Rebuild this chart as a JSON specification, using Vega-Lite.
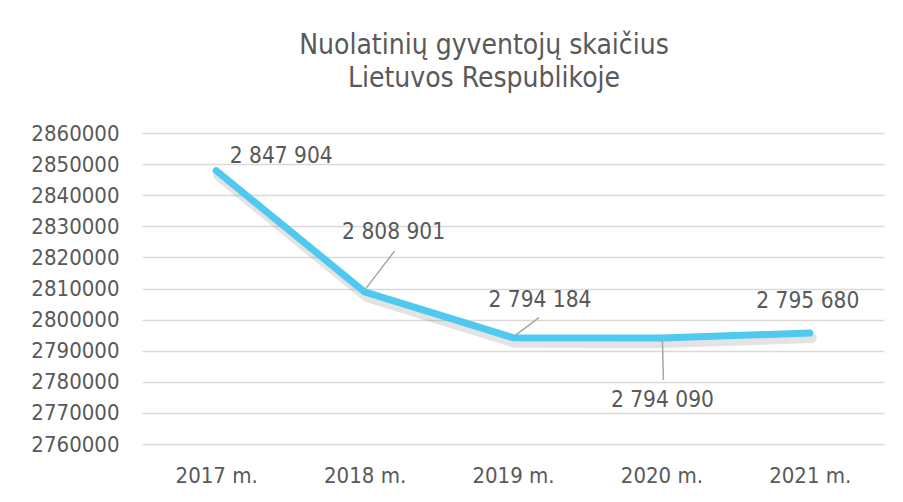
{
  "$schema": "https://vega.github.io/schema/vega-lite/v6.json",
  "width": 742,
  "height": 311,
  "autosize": {"type": "none"},
  "padding": {"left": 142, "top": 133, "right": 19, "bottom": 58},
  "background": "white",
  "title": {
    "text": ["Nuolatinių gyventojų skaičius", "Lietuvos Respublikoje"],
    "font": "DejaVu Sans Condensed",
    "fontSize": 28,
    "fontWeight": "normal",
    "color": "#595959",
    "anchor": "middle",
    "dx": -29,
    "offset": 29,
    "lineHeight": 33
  },
  "config": {
    "view": {"stroke": null},
    "font": "DejaVu Sans Condensed",
    "text": {"font": "DejaVu Sans Condensed"}
  },
  "data": {
    "values": [
      {"year": "2017 m.", "value": 2847904, "label": "2 847 904"},
      {"year": "2018 m.", "value": 2808901, "label": "2 808 901"},
      {"year": "2019 m.", "value": 2794184, "label": "2 794 184"},
      {"year": "2020 m.", "value": 2794090, "label": "2 794 090"},
      {"year": "2021 m.", "value": 2795680, "label": "2 795 680"}
    ]
  },
  "encoding": {
    "x": {
      "field": "year",
      "type": "ordinal",
      "scale": {"type": "point", "padding": 0.5},
      "axis": {
        "title": null,
        "labelAngle": 0,
        "domain": false,
        "ticks": false,
        "labelFont": "DejaVu Sans Condensed",
        "labelFontSize": 22,
        "labelColor": "#595959",
        "labelPadding": 21
      }
    },
    "y": {
      "field": "value",
      "type": "quantitative",
      "scale": {"domain": [2760000, 2860000], "nice": false, "zero": false},
      "axis": {
        "title": null,
        "values": [2760000, 2770000, 2780000, 2790000, 2800000, 2810000, 2820000, 2830000, 2840000, 2850000, 2860000],
        "format": "d",
        "domain": false,
        "ticks": false,
        "grid": true,
        "gridColor": "#d9d9d9",
        "gridWidth": 1.5,
        "labelFont": "DejaVu Sans Condensed",
        "labelFontSize": 22,
        "labelColor": "#595959",
        "labelPadding": 23
      }
    }
  },
  "layer": [
    {
      "mark": {"type": "line", "color": "#7f7f7f", "opacity": 0.22, "strokeWidth": 10, "strokeCap": "round", "strokeJoin": "round", "xOffset": 2, "yOffset": 5}
    },
    {
      "mark": {"type": "line", "color": "#4FC9F0", "strokeWidth": 7, "strokeCap": "round", "strokeJoin": "round"}
    },
    {
      "transform": [{"filter": "datum.year === '2018 m.'"}],
      "mark": {"type": "rule", "color": "#a6a6a6", "strokeWidth": 1.5, "xOffset": 1, "yOffset": -3, "x2Offset": 30, "y2Offset": -41},
      "encoding": {"x2": {"field": "year"}, "y2": {"field": "value"}}
    },
    {
      "transform": [{"filter": "datum.year === '2019 m.'"}],
      "mark": {"type": "rule", "color": "#a6a6a6", "strokeWidth": 1.5, "xOffset": 2, "yOffset": -2, "x2Offset": 26, "y2Offset": -20},
      "encoding": {"x2": {"field": "year"}, "y2": {"field": "value"}}
    },
    {
      "transform": [{"filter": "datum.year === '2020 m.'"}],
      "mark": {"type": "rule", "color": "#a6a6a6", "strokeWidth": 1.5, "xOffset": 1, "yOffset": 2, "x2Offset": 2, "y2Offset": 42},
      "encoding": {"x2": {"field": "year"}, "y2": {"field": "value"}}
    },
    {
      "transform": [{"filter": "datum.year === '2017 m.'"}],
      "mark": {"type": "text", "fontSize": 22.5, "color": "#595959", "align": "center", "baseline": "middle", "dx": 65, "dy": -15},
      "encoding": {"text": {"field": "label"}}
    },
    {
      "transform": [{"filter": "datum.year === '2018 m.'"}],
      "mark": {"type": "text", "fontSize": 22.5, "color": "#595959", "align": "center", "baseline": "middle", "dx": 29, "dy": -60},
      "encoding": {"text": {"field": "label"}}
    },
    {
      "transform": [{"filter": "datum.year === '2019 m.'"}],
      "mark": {"type": "text", "fontSize": 22.5, "color": "#595959", "align": "center", "baseline": "middle", "dx": 27, "dy": -38},
      "encoding": {"text": {"field": "label"}}
    },
    {
      "transform": [{"filter": "datum.year === '2020 m.'"}],
      "mark": {"type": "text", "fontSize": 22.5, "color": "#595959", "align": "center", "baseline": "middle", "dx": 1, "dy": 62},
      "encoding": {"text": {"field": "label"}}
    },
    {
      "transform": [{"filter": "datum.year === '2021 m.'"}],
      "mark": {"type": "text", "fontSize": 22.5, "color": "#595959", "align": "center", "baseline": "middle", "dx": -2, "dy": -32},
      "encoding": {"text": {"field": "label"}}
    }
  ]
}
